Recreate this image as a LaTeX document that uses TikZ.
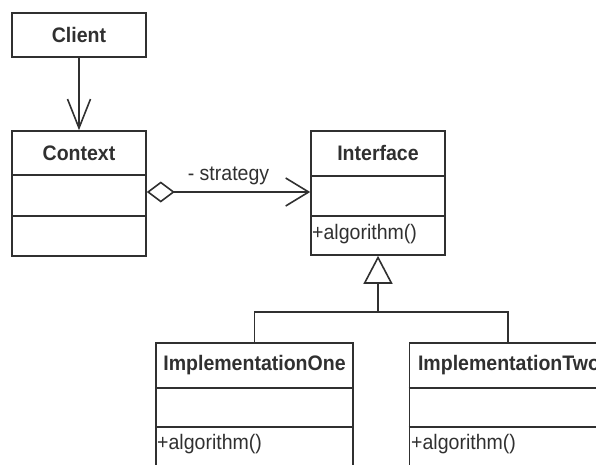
\documentclass[tikz,border=0pt]{standalone}
\usepackage{fontspec}
\newfontfamily\umlfont{Liberation Sans}[FakeStretch=0.93]
\usetikzlibrary{arrows.meta}
\definecolor{ink}{HTML}{303030}
\begin{document}
\begin{tikzpicture}[x=1pt,y=-1pt,
  every node/.style={font=\umlfont\fontsize{21}{24}\selectfont, text=ink},
  classbox/.style={draw=ink, line width=1.6pt, rectangle, inner sep=0pt, minimum width=134pt},
  classname/.style={font=\umlfont\bfseries\fontsize{21}{24}\selectfont, inner sep=0pt},
  member/.style={anchor=west, inner sep=0pt},
  conn/.style={draw=ink, line width=1.6pt},
  cut/.style={draw=ink, line width=1.6pt}]
\useasboundingbox (0,0) rectangle (596,464);
\clip (0,0) rectangle (596,464);
% Client
\node[classbox, minimum height=44pt] (client) at (79,35) {};
\node[classname] (clientname) at (client.center) {Client};
% Context
\node[classbox, minimum height=125pt] (context) at (79,193.5) {};
\node[classname] (contextname) at (79,153) {Context};
\draw[cut] (context.west |- 0,175) -- (context.east |- 0,175);
\draw[cut] (context.west |- 0,216) -- (context.east |- 0,216);
% Interface
\node[classbox, minimum height=124pt] (interface) at (378,193) {};
\node[classname] (interfacename) at (378,153) {Interface};
\draw[cut] (interface.west |- 0,176) -- (interface.east |- 0,176);
\draw[cut] (interface.west |- 0,216) -- (interface.east |- 0,216);
\node[member] (ialg) at (312,234) {+algorithm()};
% ImplementationOne
\node[classbox, minimum width=197pt, minimum height=140pt] (implone) at (254.5,413) {};
\node[classname] (implonename) at (254.5,365) {ImplementationOne};
\draw[cut] (implone.west |- 0,388) -- (implone.east |- 0,388);
\draw[cut] (implone.west |- 0,427) -- (implone.east |- 0,427);
\node[member] (onealg) at (157,444) {+algorithm()};
% ImplementationTwo
\node[classbox, minimum width=197pt, minimum height=140pt] (impltwo) at (508,413) {};
\node[classname] (impltwoname) at (509,365) {ImplementationTwo};
\draw[cut] (impltwo.west |- 0,388) -- (impltwo.east |- 0,388);
\draw[cut] (impltwo.west |- 0,427) -- (impltwo.east |- 0,427);
\node[member] (twoalg) at (411,444) {+algorithm()};
% Client -> Context
\draw[conn, -{Straight Barb[length=29pt, width=23pt, line width=1.6pt]}] (client.south) -- (context.north);
% Aggregation
\draw[conn, {Diamond[open, length=28pt, width=21pt, line width=1.6pt]}-{Straight Barb[length=23pt, width=28pt, line width=1.6pt]}]
  (context.east |- 0,192) -- node[above=6pt, inner sep=0pt] (rolelabel) {- strategy} (interface.west |- 0,192);
% Generalization
\coordinate (junction) at (378,312);
\draw[conn] (implone.north) |- (junction) -| (impltwo.north);
\draw[conn, -{Triangle[open, length=28pt, width=29pt, line width=1.6pt]}] (junction) -- (interface.south);
\end{tikzpicture}
\end{document}
